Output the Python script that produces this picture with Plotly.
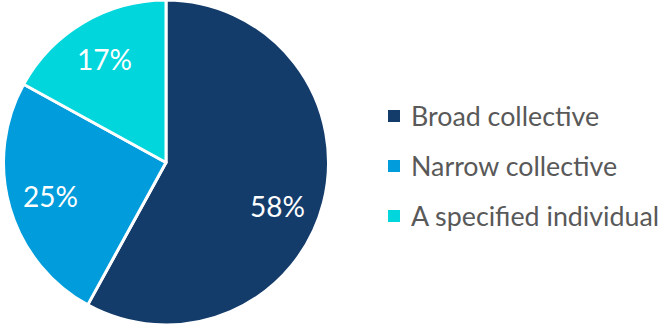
import math
import plotly.graph_objects as go

categories = ["Broad collective", "Narrow collective", "A specified individual"]
shares = [58, 25, 17]
colors = ["#143C6B", "#009CDB", "#00D6DC"]

W, H = 660, 325
FONT = "Lato"

# Pie geometry in pixels (margins are zero, so paper == pixels)
CX, CY, R = 166, 162.5, 162.5
fig = go.Figure()
fig.add_trace(go.Pie(
    labels=categories,
    values=shares,
    sort=False,
    direction="clockwise",
    rotation=0,
    marker=dict(colors=colors, line=dict(color="white", width=3)),
    textinfo="none",
    domain=dict(x=[(CX - R) / W, (CX + R) / W], y=[0, 1]),
    showlegend=False,
    hoverinfo="label+percent",
))

# Percentage labels placed along each slice's bisector
label_radius = 0.74
angle_shift = [7, 0, 0]  # degrees, nudges the large slice's label lower
total = sum(shares)
start = 0.0
for val, shift in zip(shares, angle_shift):
    sweep = 360.0 * val / total
    mid = math.radians(start + sweep / 2 + shift)
    x = CX + label_radius * R * math.sin(mid)
    y = CY - label_radius * R * math.cos(mid)
    fig.add_annotation(
        x=x / W, y=1 - y / H, xref="paper", yref="paper",
        text=f"{val}%", showarrow=False, xanchor="center", yanchor="middle",
        font=dict(family=FONT, size=28, color="white"),
    )
    start += sweep

# Legend drawn as square swatches with labels, one row per category
row_y = [116, 166, 216]
for cat, col, y in zip(categories, colors, row_y):
    fig.add_shape(
        type="rect", xref="paper", yref="paper",
        x0=388 / W, x1=400 / W, y0=1 - (y + 6) / H, y1=1 - (y - 6) / H,
        fillcolor=col, line=dict(width=0),
    )
    fig.add_annotation(
        x=409 / W, y=1 - y / H, xref="paper", yref="paper",
        text=cat, showarrow=False, xanchor="left", yanchor="middle",
        font=dict(family=FONT, size=26.8, color="#595959"),
    )

fig.update_layout(
    width=W, height=H,
    margin=dict(l=0, r=0, t=0, b=0),
    paper_bgcolor="white",
    plot_bgcolor="white",
)

fig.write_html("out.html")
